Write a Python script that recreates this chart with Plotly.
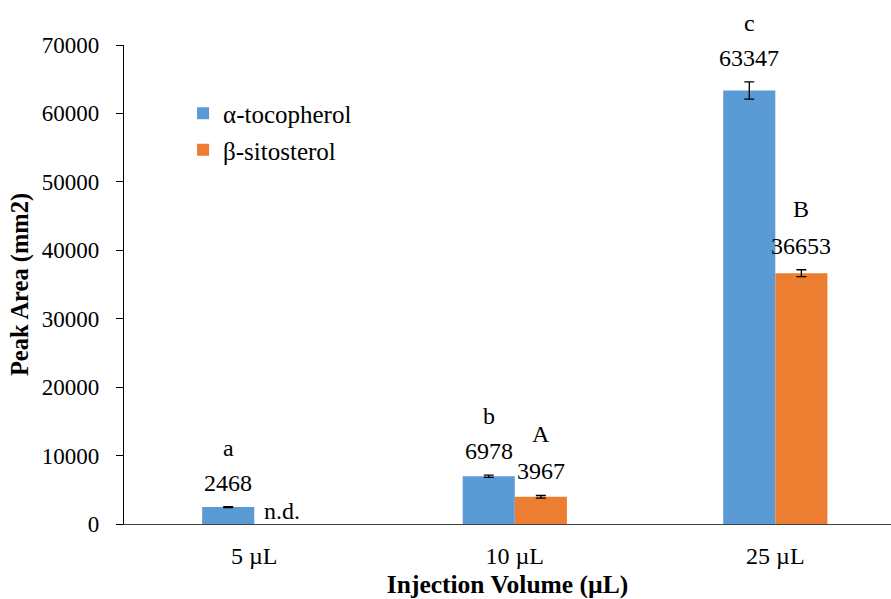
import plotly.graph_objects as go

# Peak area by injection volume for the two analytes
volumes = ["5 µL", "10 µL", "25 µL"]
toco_area = [2468, 6978, 63347]
toco_err = [60, 150, 1250]
toco_letters = ["a", "b", "c"]

sito_area = [None, 3967, 36653]
sito_err = [0, 200, 500]
sito_letters = ["", "A", "B"]
sito_labels = ["n.d.", "3967", "36653"]

BLUE = "#5B9BD5"
ORANGE = "#ED7D31"
FONT = "Liberation Serif"

xpos = list(range(len(volumes)))
fig = go.Figure()

fig.add_trace(go.Bar(
    x=xpos, y=toco_area, name="α-tocopherol", legendgroup="toco",
    marker=dict(color=BLUE, line=dict(width=0)),
    error_y=dict(type="data", array=toco_err, visible=True,
                 color="#000000", thickness=1.3, width=5),
))
fig.add_trace(go.Bar(
    x=xpos, y=sito_area, name="β-sitosterol", legendgroup="sito",
    marker=dict(color=ORANGE, line=dict(width=0)),
    error_y=dict(type="data", array=sito_err, visible=True,
                 color="#000000", thickness=1.3, width=5),
))

off = 0.1
lab_font = dict(family=FONT, size=24, color="#000000")
# value labels and significance letters above each bar
for i, v in enumerate(toco_area):
    top = v + toco_err[i]
    fig.add_annotation(x=i - off, y=top, text=str(v), showarrow=False,
                       yanchor="middle", yshift=24, font=lab_font)
    fig.add_annotation(x=i - off, y=top, text=toco_letters[i], showarrow=False,
                       yanchor="middle", yshift=59, font=lab_font)
for i, v in enumerate(sito_area):
    if v is None:
        fig.add_annotation(x=i + off, y=0, text=sito_labels[i], showarrow=False,
                           yanchor="middle", xanchor="center", yshift=13, xshift=2,
                           font=lab_font)
        continue
    top = v + sito_err[i]
    fig.add_annotation(x=i + off, y=top, text=sito_labels[i], showarrow=False,
                       yanchor="middle", yshift=24, font=lab_font)
    fig.add_annotation(x=i + off, y=top, text=sito_letters[i], showarrow=False,
                       yanchor="middle", yshift=61, font=lab_font)

fig.update_layout(
    width=891, height=599,
    margin=dict(l=124, r=0, t=45, b=75),
    paper_bgcolor="white", plot_bgcolor="white",
    font=dict(family=FONT, size=22, color="#000000"),
    barmode="group", bargap=0.6, bargroupgap=0,
    showlegend=True,
    legend=dict(x=0.077, y=0.905, xanchor="left", yanchor="top",
                bgcolor="rgba(0,0,0,0)",
                font=dict(family=FONT, size=25, color="#000000"),
                tracegroupgap=1, itemwidth=30),
    xaxis=dict(
        tickmode="array", tickvals=xpos, ticktext=volumes,
        tickfont=dict(family=FONT, size=24, color="#000000"),
        range=[-0.5, 2.444], showline=True, linecolor="#404040", linewidth=1.3,
        ticks="", showgrid=False, zeroline=False, ticklabelstandoff=10,
        automargin=False,
        title=dict(text="<b>Injection Volume (µL)</b>", standoff=14,
                   font=dict(family=FONT, size=25.5, color="#000000")),
    ),
    yaxis=dict(
        range=[0, 70000], dtick=10000, tickformat="d", showline=True,
        tickfont=dict(family=FONT, size=23, color="#000000"),
        linecolor="#000000", linewidth=1.3, ticks="outside", ticklen=7,
        tickcolor="#000000", showgrid=False, zeroline=False, ticklabelstandoff=12,
        automargin=False,
        title=dict(text="<b>Peak Area (mm2)</b>", standoff=6,
                   font=dict(family=FONT, size=24.5, color="#000000")),
    ),
)

fig.write_html("out.html")
